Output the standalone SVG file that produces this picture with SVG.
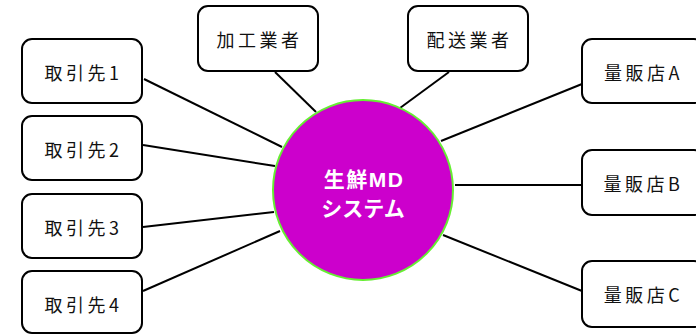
<svg xmlns="http://www.w3.org/2000/svg" width="696" height="334" viewBox="0 0 696 334">
<style>
.box{fill:#fff;stroke:#000;stroke-width:2}
.lbl{font-family:"Noto Sans CJK JP","Noto Sans",sans-serif;font-size:18px;letter-spacing:3.5px;fill:#111;text-anchor:middle}
.ctr{font-family:"Liberation Sans","Noto Sans CJK JP",sans-serif;font-size:21px;font-weight:bold;fill:#fff;text-anchor:middle}
#connectors line{stroke:#000;stroke-width:2}
</style>
<rect width="696" height="334" fill="#fff"/>
<g id="connectors">
<line x1="144" y1="79" x2="282" y2="147"/>
<line x1="143" y1="145" x2="275" y2="166"/>
<line x1="143" y1="227" x2="274" y2="212"/>
<line x1="143" y1="291" x2="280" y2="231"/>
<line x1="275" y1="72" x2="316" y2="112"/>
<line x1="449" y1="72" x2="400" y2="108"/>
<line x1="582" y1="84" x2="441" y2="141"/>
<line x1="455" y1="185" x2="582" y2="185"/>
<line x1="443" y1="235" x2="582" y2="291"/>
</g>
<g id="n-center">
<circle cx="363" cy="190" r="90" fill="#CC00CC" stroke="#66EE33" stroke-width="2"/>
<text class="ctr" x="364" y="187" letter-spacing="1.5">生鮮MD</text>
<text class="ctr" x="363" y="216">システム</text>
</g>
<g id="n-t1"><rect class="box" x="22" y="39" width="120" height="64" rx="10"/><text class="lbl" x="83.5" y="80">取引先1</text></g>
<g id="n-t2"><rect class="box" x="22" y="116" width="120" height="64" rx="10"/><text class="lbl" x="83.5" y="157">取引先2</text></g>
<g id="n-t3"><rect class="box" x="22" y="194" width="120" height="64" rx="10"/><text class="lbl" x="83.5" y="235">取引先3</text></g>
<g id="n-t4"><rect class="box" x="22" y="271" width="120" height="62" rx="10"/><text class="lbl" x="83.5" y="312">取引先4</text></g>
<g id="n-kakou"><rect class="box" x="198" y="6" width="120" height="65" rx="10"/><text class="lbl" x="259.5" y="47">加工業者</text></g>
<g id="n-haisou"><rect class="box" x="408" y="6" width="120" height="65" rx="10"/><text class="lbl" x="469.5" y="47">配送業者</text></g>
<g id="n-a"><rect class="box" x="582" y="39" width="122" height="64" rx="10"/><text class="lbl" x="643.5" y="80">量販店A</text></g>
<g id="n-b"><rect class="box" x="582" y="150" width="122" height="65" rx="10"/><text class="lbl" x="643.5" y="191">量販店B</text></g>
<g id="n-c"><rect class="box" x="582" y="261" width="122" height="66" rx="10"/><text class="lbl" x="643.5" y="302">量販店C</text></g>
</svg>
